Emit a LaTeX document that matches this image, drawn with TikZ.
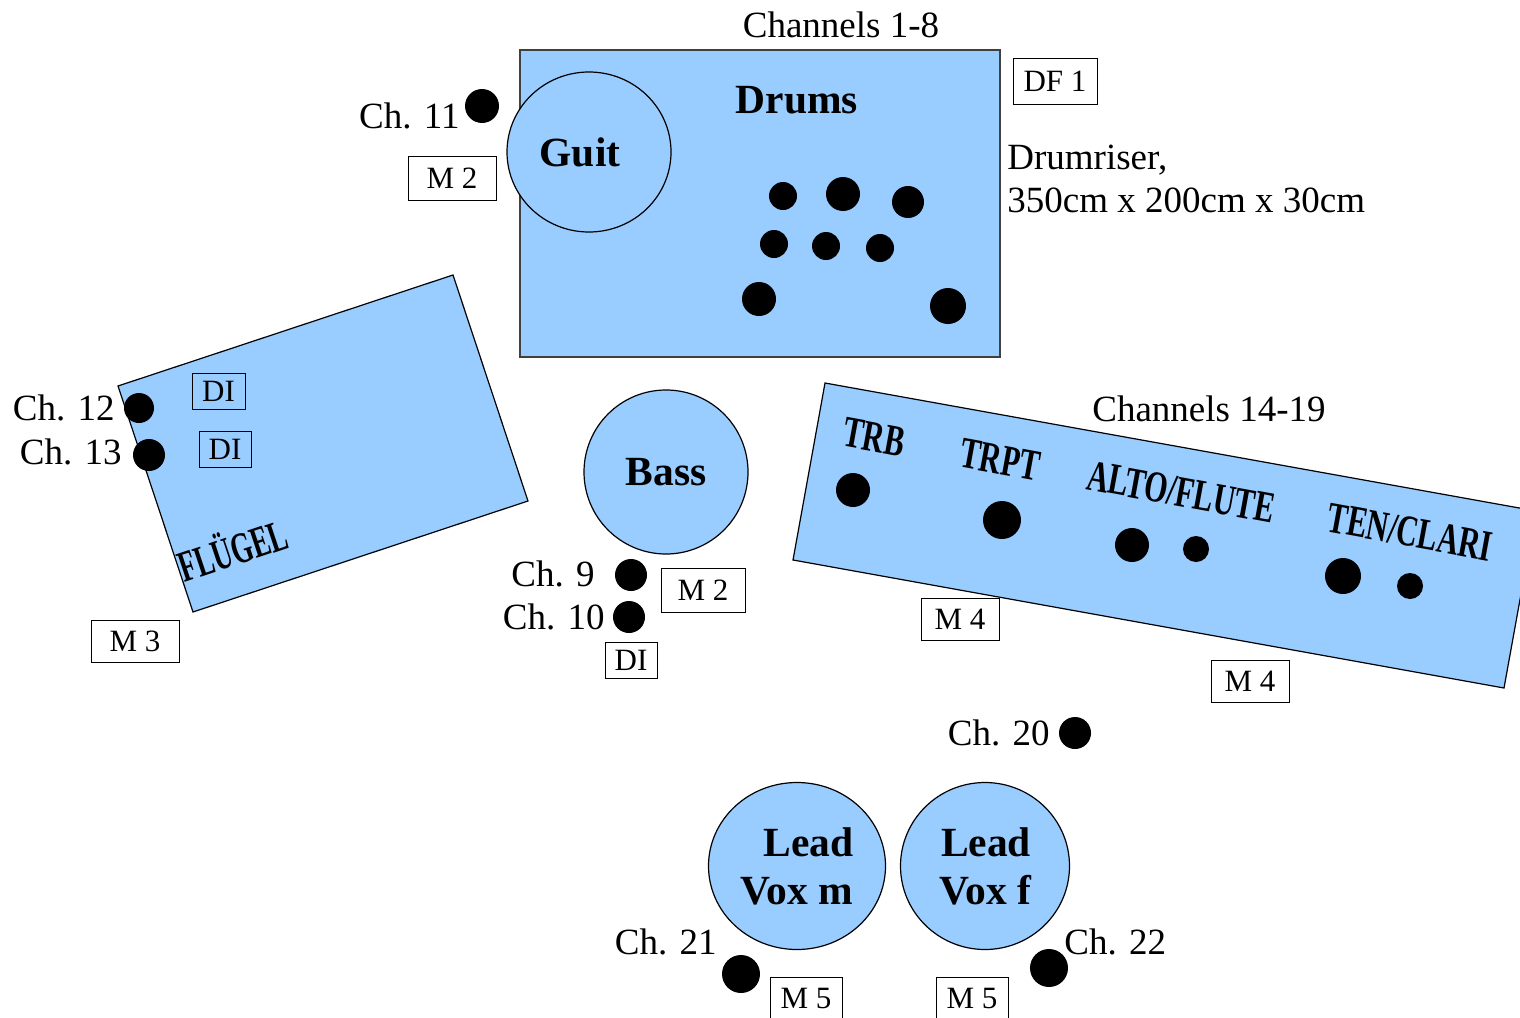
\documentclass[tikz,border=0pt]{standalone}
\usepackage{fontspec}
\setmainfont{Liberation Serif}
\usetikzlibrary{shapes.geometric}
\definecolor{stageblue}{HTML}{99CCFF}
\newcommand\chanfont{\fontsize{18.5pt}{21.5pt}\selectfont}
\newcommand\playfont{\fontsize{20.75pt}{24pt}\selectfont\bfseries}
\newcommand\tagfont{\fontsize{15.5pt}{17pt}\selectfont}
\newcommand\hornfont{\fontsize{22pt}{24pt}\selectfont\bfseries}
\newcommand\narrow[1]{\scalebox{0.68}[1]{#1}}
\begin{document}
\begin{tikzpicture}[x=0.5pt,y=-0.5pt,riser/.style={fill=stageblue,draw=black,line width=0.6pt},player/.style={shape=ellipse,fill=stageblue,draw=black,line width=0.6pt,inner sep=0pt,font=\playfont,align=right},micdot/.style={shape=circle,fill=black,inner sep=0pt,minimum size=#1},tag/.style={draw=black,line width=0.5pt,inner sep=0pt,font=\tagfont,minimum width=44pt,minimum height=22pt},tagM/.style={tag,fill=white},chan/.style={font=\chanfont,inner sep=0pt},horn/.style={font=\hornfont,inner sep=0pt,rotate=-10.4}]
\def\dmic{14pt};
\def\bmic{17pt};

\useasboundingbox (0,0) rectangle (1520,1017);
\clip (0,0) rectangle (1520,1017);

% risers
\draw[riser,draw=black!75] (520,50) rectangle (1000,357);
\draw[riser] (118,386) -- (453,275) -- (528,501) -- (193,612) -- cycle;
\draw[riser] (825,383) -- (1536,511) -- (1504,688) -- (793,560) -- cycle;

% drums
\node[chan,anchor=base] (ch18) at (841,37) {Channels 1-8};
\node[font=\playfont] (drums) at (797,100) {Drums};
\node[micdot=\dmic] (dr1) at (783,196) {};
\node[micdot=\bmic] (dr2) at (843,194) {};
\node[micdot=16pt] (dr3) at (908,202) {};
\node[micdot=\dmic] (dr4) at (774,244) {};
\node[micdot=\dmic] (dr5) at (826,246) {};
\node[micdot=\dmic] (dr6) at (880,248) {};
\node[micdot=\bmic] (dr7) at (759,299) {};
\node[micdot=18pt] (dr8) at (948,306) {};
\node[tagM,minimum width=42pt,minimum height=23pt] (df1) at (1055,81) {DF 1};
\node[chan,anchor=base west] (riserA) at (1007,169) {Drumriser,};
\node[chan,anchor=base west] (riserB) at (1007,212) {350cm x 200cm x 30cm};

% guitar
\node[player,minimum width=82pt,minimum height=80pt] (guit) at (589,152) {Guit\hspace*{9pt}};
\node[micdot=\bmic] (m11) at (482,106) {};
\node[chan,anchor=base east] (ch11) at (460,128) {Ch. 11};
\node[tagM] (mguit) at (452,178) {M 2};

% piano
\node[micdot=15pt] (m12) at (139,408) {};
\node[micdot=16pt] (m13) at (149,455) {};
\node[chan,anchor=base east] (ch12) at (115,420) {Ch. 12};
\node[chan,anchor=base east] (ch13) at (122,464) {Ch. 13};
\node[tag,minimum width=26.5pt,minimum height=18pt] (di12) at (218.5,391) {DI};
\node[tag,minimum width=26pt,minimum height=18pt] (di13) at (225,449) {DI};
\node[font=\hornfont,inner sep=0pt,rotate=18.5] (fluegel) at (232,548) {\scalebox{0.62}[1]{FLÜGEL}};
\node[tagM,minimum height=21pt] (mpiano) at (135,641) {M 3};

% bass
\node[player,minimum width=82pt,minimum height=82pt] (bass) at (666,472) {Bass};
\node[micdot=16pt] (m9) at (631,575) {};
\node[micdot=16pt] (m10) at (629,617) {};
\node[chan,anchor=base east] (ch9) at (595,586) {Ch. 9};
\node[chan,anchor=base east] (ch10) at (605,629) {Ch. 10};
\node[tagM,minimum width=42pt] (mbass) at (703,590) {M 2};
\node[tagM,minimum width=26pt,minimum height=18pt] (dibass) at (631,660) {DI};

% horns
\node[chan,anchor=base] (ch1419) at (1209,421) {Channels 14-19};
\node[horn] (trb) at (874,437) {\narrow{TRB}};
\node[horn] (trpt) at (1000,460) {\narrow{TRPT}};
\node[horn] (alto) at (1181,492) {\narrow{ALTO/FLUTE}};
\node[horn] (ten) at (1410,532) {\narrow{TEN/CLARI}};
\node[micdot=\bmic] (h1) at (853,490) {};
\node[micdot=19pt] (h2) at (1002,520) {};
\node[micdot=\bmic] (h3) at (1132,545) {};
\node[micdot=13pt] (h4) at (1196,549) {};
\node[micdot=18pt] (h5) at (1343,576) {};
\node[micdot=13pt] (h6) at (1410,586) {};
\node[tagM,minimum width=39pt,minimum height=21pt] (mhornA) at (960,619) {M 4};
\node[tagM,minimum width=39pt,minimum height=21pt] (mhornB) at (1250,681) {M 4};

% vocals
\node[micdot=16pt] (m20) at (1075,733) {};
\node[chan,anchor=base east] (ch20) at (1050,745) {Ch. 20};
\node[player,minimum width=88.5pt,minimum height=83.5pt] (voxm) at (797,866) {Lead\\Vox m};
\node[player,minimum width=84.5pt,minimum height=83.5pt] (voxf) at (985,866) {Lead\\Vox f};
\node[micdot=19pt] (m21) at (741,974) {};
\node[micdot=19pt] (m22) at (1049,968) {};
\node[chan,anchor=base east] (ch21) at (717,954) {Ch. 21};
\node[chan,anchor=base west] (ch22) at (1064,954) {Ch. 22};
\node[tagM,minimum width=36pt,minimum height=21pt] (mvoxm) at (806,998) {M 5};
\node[tagM,minimum width=36pt,minimum height=21pt] (mvoxf) at (972,998) {M 5};
\end{tikzpicture}
\end{document}
